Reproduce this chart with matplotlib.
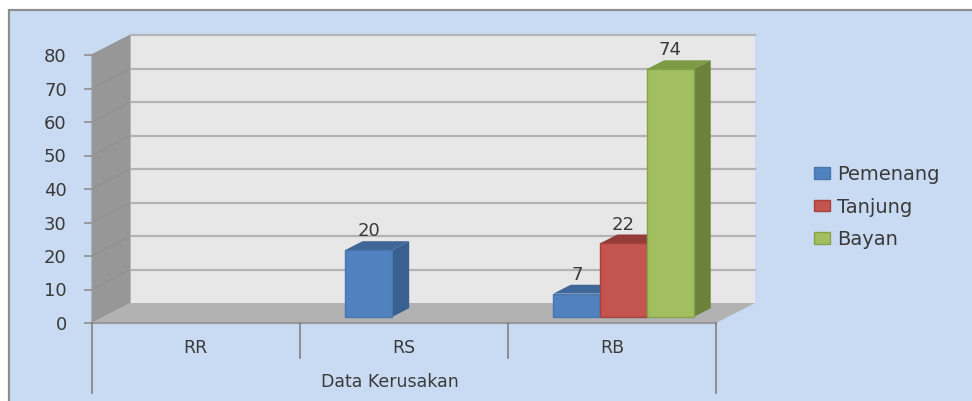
import matplotlib
matplotlib.use('Agg')
import matplotlib.pyplot as plt
from matplotlib.patches import Patch, Rectangle

# ---- data ----
categories = ['RR', 'RS', 'RB']
series_names = ['Pemenang', 'Tanjung', 'Bayan']
pemenang = [0, 20, 7]
tanjung = [0, 0, 22]
bayan = [0, 0, 74]
y_ticks = [0, 10, 20, 30, 40, 50, 60, 70, 80]
axis_title = 'Data Kerusakan'

# ---- styles ----
W, H = 972, 401
BG = '#C9DBF2'
WALL = '#E7E7E7'
SIDE_WALL = '#979797'
FLOOR = '#B2B2B2'
GRID = '#B3B3B3'
TEXT = '#3A3A3A'
front_cols = ['#5082C0', '#C3544F', '#A1BF5F']
edge_cols = ['#4A76AE', '#A8423F', '#86A34C']
top_cols = ['#3F6797', '#933C39', '#7D9A44']
side_cols = ['#39608F', '#8A3835', '#6C8139']

# depth of the fake 3d box, in data units (x categories / y values)
DEPTH_X = 0.1875
DEPTH_Y = 5.97
BAR_D0 = 0.3
BAR_D1 = 0.74
BAR_W = 0.2243


def px_x(x):
    return x / W


def px_y(y):
    return 1 - y / H


def proj(x, y, d):
    return x + d * DEPTH_X, y + d * DEPTH_Y


def fill3d(ax, pts, **kw):
    xs, ys = zip(*[proj(*p) for p in pts])
    ax.fill(xs, ys, clip_on=False, **kw)


def draw_bar(ax, x, v, i):
    fx, fy = proj(x, 0, BAR_D0)
    fill3d(ax, [(x, v, BAR_D0), (x + BAR_W, v, BAR_D0), (x + BAR_W, v, BAR_D1), (x, v, BAR_D1)],
           fc=top_cols[i], ec='none', zorder=4)
    fill3d(ax, [(x + BAR_W, 0, BAR_D0), (x + BAR_W, v, BAR_D0), (x + BAR_W, v, BAR_D1), (x + BAR_W, 0, BAR_D1)],
           fc=side_cols[i], ec='none', zorder=4)
    ax.bar(fx, v, BAR_W, bottom=fy, align='edge', color=front_cols[i], edgecolor=edge_cols[i],
           linewidth=1, clip_on=False, zorder=4)
    lx, ly = proj(x + BAR_W / 2, v, BAR_D0)
    ax.text(lx, ly + 2.9, str(v), ha='center', va='bottom', fontsize=13, color=TEXT, zorder=6)


fig = plt.figure(figsize=(W / 100, H / 100), dpi=100, facecolor='white')

# panel behind everything, only the left and top border show
fig.add_artist(Rectangle((px_x(9), -0.05), 1.1, px_y(9.5) + 0.05, transform=fig.transFigure,
                         fc=BG, ec='#8E8E8E', lw=1.6, zorder=-5))

ax = fig.add_axes([px_x(91.5), px_y(323), (716 - 91.5) / W, (323 - 55) / H])
ax.set_xlim(0, 3)
ax.set_ylim(0, 80)
ax.patch.set_visible(False)
for s in ax.spines.values():
    s.set_visible(False)

# walls and floor
fill3d(ax, [(0, 0, 1), (3, 0, 1), (3, 80, 1), (0, 80, 1)], fc=WALL, ec='none', zorder=1)
fill3d(ax, [(0, 0, 0), (0, 0, 1), (0, 80, 1), (0, 80, 0)], fc=SIDE_WALL, ec='none', zorder=1)
fill3d(ax, [(0, 0, 0), (3, 0, 0), (3, 0, 1), (0, 0, 1)], fc=FLOOR, ec='none', zorder=1)

# gridlines run along the side wall and across the back
for v in y_ticks[1:]:
    x0, y0 = proj(0, v, 0)
    x1, y1 = proj(0, v, 1)
    x2, y2 = proj(3, v, 1)
    ax.plot([x0, x1], [y0, y1], color='#8E8E8E', lw=0.7, clip_on=False, zorder=2)
    ax.plot([x1, x2], [y1, y2], color=GRID, lw=1.6, clip_on=False, zorder=2)

# bars
for i, vals in enumerate([pemenang, tanjung, bayan]):
    for c, v in enumerate(vals):
        if v > 0:
            draw_bar(ax, c + 0.163 + i * BAR_W, v, i)

# axes
ax.set_yticks(y_ticks)
ax.set_xticks([])
ax.tick_params(axis='y', length=5.8, width=1.4, color='#9A9A9A', pad=12, labelsize=13, labelcolor=TEXT)
ax.plot([0, 3], [0, 0], color='#9A9A9A', lw=1.6, clip_on=False, zorder=3)
ax.plot([0, 0], [0, 80], color='#9A9A9A', lw=1, clip_on=False, zorder=3)

for x, low in zip([0, 1, 2, 3], [-21, -10.5, -10.5, -21]):
    ax.plot([x, x], [0, low], color='#7F7F7F', lw=1.2, clip_on=False, zorder=3)
for c, name in enumerate(categories):
    ax.text(c + 0.5, -7.4, name, ha='center', va='center', fontsize=12.5, color=TEXT, clip_on=False)
ax.text(1.434, -17.7, axis_title, ha='center', va='center', fontsize=12.5, color=TEXT, clip_on=False)

handles = [Patch(fc=front_cols[i], ec=edge_cols[i], lw=1) for i in range(3)]
ax.legend(handles, series_names, loc='center left', bbox_to_anchor=(px_x(814), px_y(207)),
          bbox_transform=fig.transFigure, frameon=False, fontsize=14, labelcolor=TEXT,
          handlelength=0.82, handleheight=0.55, handletextpad=0.36, labelspacing=0.7,
          borderpad=0, borderaxespad=0)

fig.savefig('out.png', dpi=100, facecolor='white')
